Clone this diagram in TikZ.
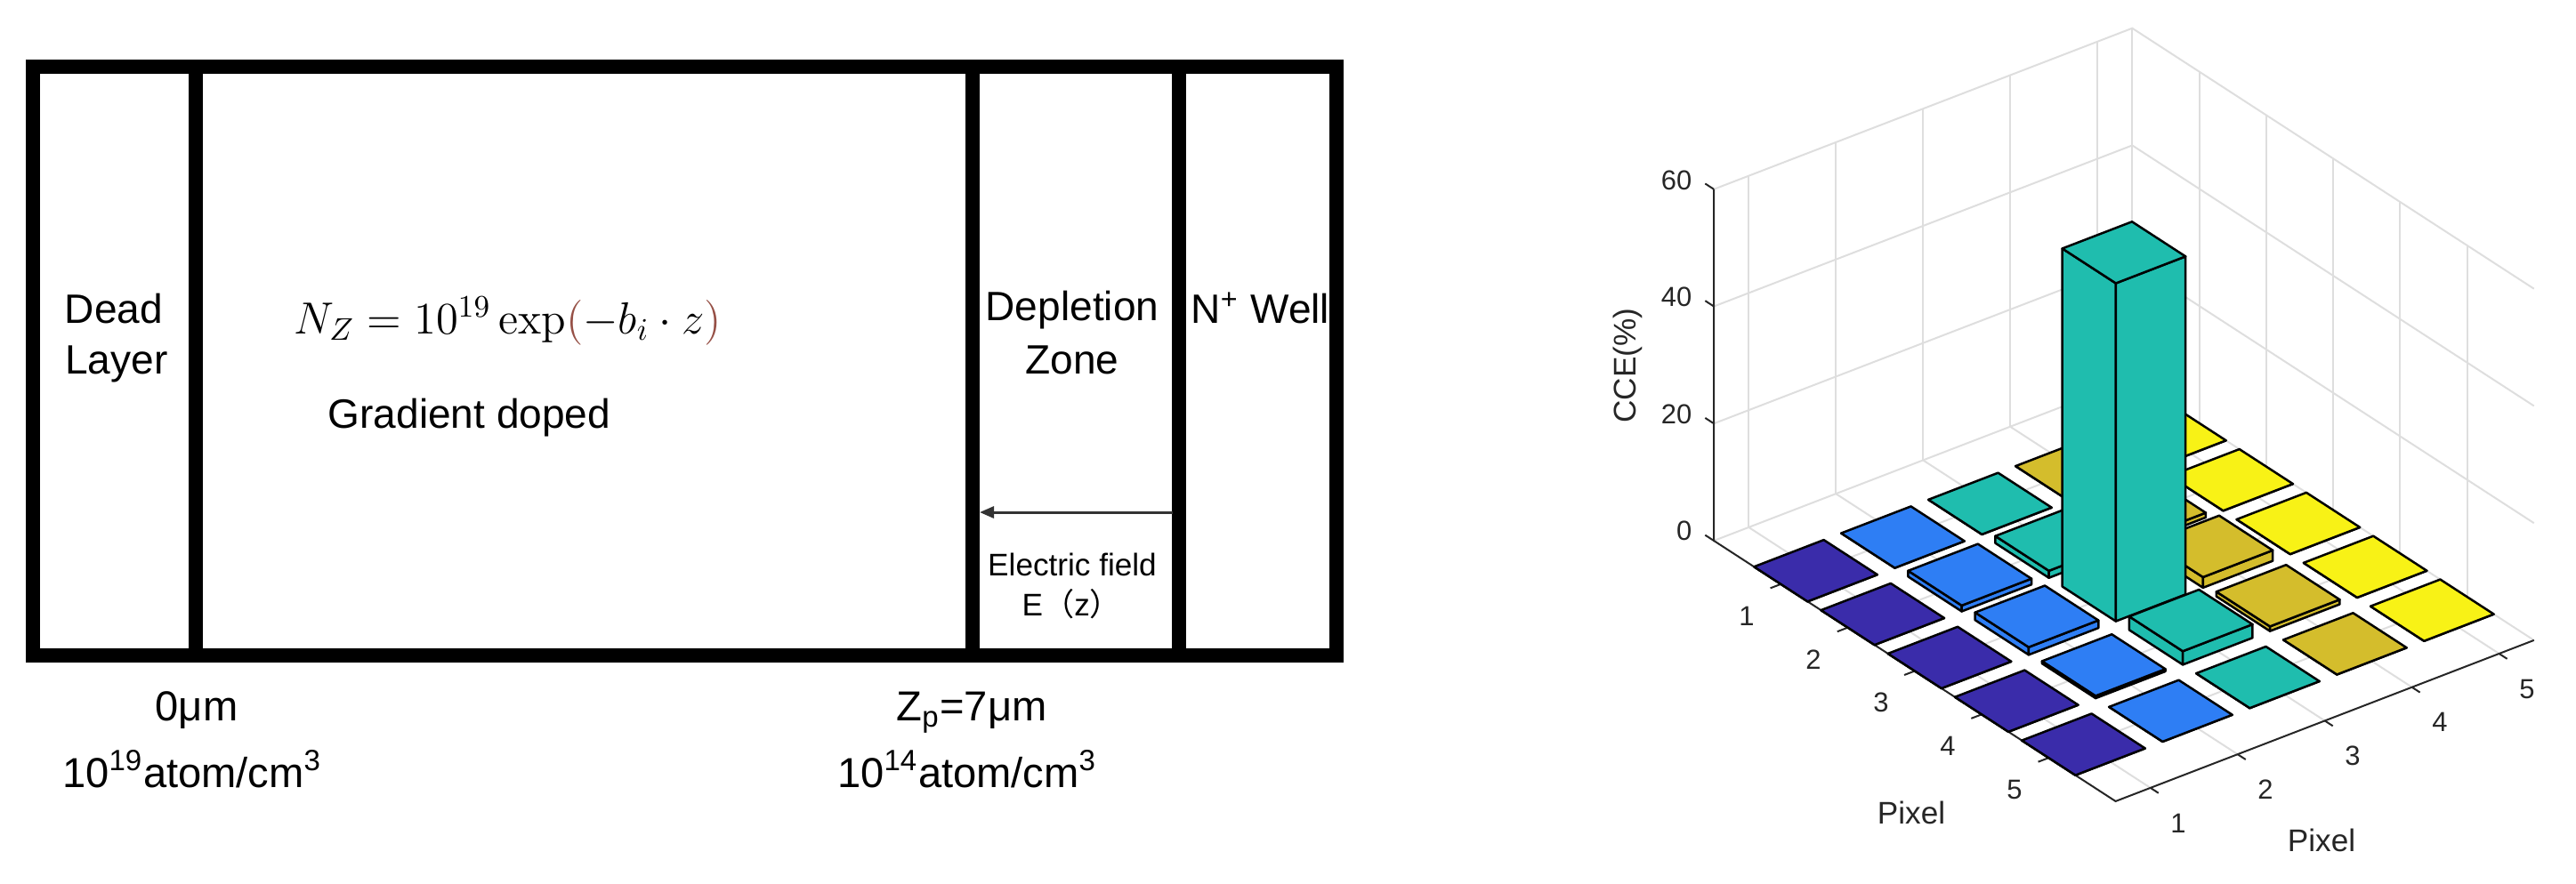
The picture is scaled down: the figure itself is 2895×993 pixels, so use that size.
\documentclass[tikz,border=0pt]{standalone}
\usepackage[no-math]{fontspec}
\setmainfont{Liberation Sans}
\newfontfamily\cjkfont{Noto Sans CJK SC}
\usetikzlibrary{arrows.meta}

\definecolor{cDark}{RGB}{58,44,170}
\definecolor{cBlue}{RGB}{46,126,244}
\definecolor{cTeal}{RGB}{31,189,174}
\definecolor{cGold}{RGB}{212,189,44}
\definecolor{cYel}{RGB}{248,242,22}
\definecolor{gridgray}{RGB}{222,222,222}
\definecolor{axgray}{RGB}{38,38,38}
\definecolor{parenbrown}{RGB}{150,80,70}

\begin{document}
\begin{tikzpicture}[x=0.01cm,y=-0.01cm,
  frame/.style={line width=0.155cm},
  lbl/.style={font=\fontsize{13.1}{15}\selectfont, inner sep=0pt},
  lblb/.style={font=\fontsize{13.4}{15}\selectfont, inner sep=0pt},
  smalllbl/.style={font=\fontsize{10}{12}\selectfont, inner sep=0pt},
  ax/.style={line width=0.02cm, draw=axgray},
  gridln/.style={line width=0.02cm, draw=gridgray},
  barface/.style={draw=black, line width=0.025cm, line join=round},
  ticklbl/.style={font=\fontsize{8.8}{10}\selectfont, text=axgray, inner sep=0pt},
  axlbl/.style={font=\fontsize{10}{12}\selectfont, text=axgray, inner sep=0pt}]
\useasboundingbox (0,0) rectangle (2895,993);

% ---------------- left panel ----------------
\draw[frame] (37,75) rectangle (1502,737);
\draw[frame] (220,75) -- (220,737);
\draw[frame] (1093,75) -- (1093,737);
\draw[frame] (1325,75) -- (1325,737);

\node[lbl, anchor=base] (dead) at (128,363) {Dead};
\node[lbl, anchor=base] (layer) at (131,420) {Layer};
\node[lbl, anchor=base west] (eq) at (330,375)
  {\fontsize{14.2}{16}\selectfont $N_Z = 10^{19}\exp\mathopen{\textcolor{parenbrown}{(}}-b_i\cdot z\mathclose{\textcolor{parenbrown}{)}}$};
\node[lbl, anchor=base west] (grad) at (368,481) {Gradient doped};
\node[lbl, anchor=base] (depl) at (1205,360) {Depletion};
\node[lbl, anchor=base] (zone) at (1205,420) {Zone};
\node[lbl, anchor=base west] (nwell) at (1338,363) {N\textsuperscript{+} Well};
\node[smalllbl, anchor=base] (efield) at (1205,647) {Electric field};
\node[smalllbl, anchor=base west] (ez) at (1148,692) {E{\cjkfont （}z{\cjkfont ）}};

\coordinate (efR) at (1318,576);
\coordinate (efL) at (1101,576);
\draw[line width=0.03cm, draw=black!80, -{Triangle[length=0.16cm,width=0.13cm]}] (efR) -- (efL);

\node[lblb, anchor=base] (zero) at (221,810) {0μm};
\node[lblb, anchor=base] (dens1) at (216,885) {10\textsuperscript{19}atom/cm\textsuperscript{3}};
\node[lblb, anchor=base] (zp) at (1092,810) {Z\textsubscript{p}=7μm};
\node[lblb, anchor=base] (dens2) at (1087,885) {10\textsuperscript{14}atom/cm\textsuperscript{3}};

% ---------------- 3D bar chart ----------------
\begin{scope}[shift={(1867.3,630.6)}, x={(0.752cm,-0.488cm)}, y={(0.979cm,0.377cm)}, z={(0cm,0.06583cm)}]
  % grid lines
  \foreach \i in {1,...,5} {
    \draw[gridln] (\i,0.6,0) -- (\i,5.4,0);
    \draw[gridln] (\i,5.4,0) -- (\i,5.4,60);
  }
  \foreach \j in {1,...,5} {
    \draw[gridln] (0,\j,0) -- (6,\j,0);
    \draw[gridln] (0,\j,0) -- (0,\j,60);
  }
  \foreach \zz in {20,40,60} {
    \draw[gridln] (0,0.6,\zz) -- (0,5.4,\zz) -- (6,5.4,\zz);
  }
  \draw[gridln] (0,0.6,0) -- (0,5.4,0) -- (6,5.4,0);
  \draw[gridln] (0,5.4,0) -- (0,5.4,60);
  % axes
  \draw[ax] (0,0.6,60) -- (0,0.6,0) -- (6,0.6,0) -- (6,5.4,0);
  \foreach \zz in {0,20,40,60} \draw[ax] (0,0.6,\zz) -- (-0.13,0.6,\zz);
  \foreach \i in {1,...,5} \draw[ax] (\i,0.6,0) -- (\i,0.48,0);
  \foreach \j in {1,...,5} \draw[ax] (6,\j,0) -- (6.12,\j,0);
  % bars, back to front
  \foreach \i/\j/\h/\c in {
     1/5/0/cYel, 1/4/0/cGold, 1/3/0/cTeal, 1/2/0/cBlue, 1/1/0/cDark,
     2/5/0/cYel, 2/4/0.8/cGold, 2/3/1.2/cTeal, 2/2/1.0/cBlue, 2/1/0/cDark,
     3/5/0/cYel, 3/4/1.8/cGold, 3/3/57.7/cTeal, 3/2/1.3/cBlue, 3/1/0/cDark,
     4/5/0/cYel, 4/4/0.8/cGold, 4/3/2.3/cTeal, 4/2/0.4/cBlue, 4/1/0/cDark,
     5/5/0/cYel, 5/4/0/cGold, 5/3/0/cTeal, 5/2/0/cBlue, 5/1/0/cDark} {
    \pgfmathsetmacro\ia{\i-0.4}
    \pgfmathsetmacro\ib{\i+0.4}
    \pgfmathsetmacro\ja{\j-0.4}
    \pgfmathsetmacro\jb{\j+0.4}
    \draw[barface, fill=\c] (\ia,\ja,0) -- (\ib,\ja,0) -- (\ib,\ja,\h) -- (\ia,\ja,\h) -- cycle;
    \draw[barface, fill=\c] (\ib,\ja,0) -- (\ib,\jb,0) -- (\ib,\jb,\h) -- (\ib,\ja,\h) -- cycle;
    \draw[barface, fill=\c] (\ia,\ja,\h) -- (\ib,\ja,\h) -- (\ib,\jb,\h) -- (\ia,\jb,\h) -- cycle;
  }
\end{scope}

% tick labels
\node[ticklbl, anchor=east] (z60) at (1902,203) {60};
\node[ticklbl, anchor=east] (z40) at (1902,334) {40};
\node[ticklbl, anchor=east] (z20) at (1902,466) {20};
\node[ticklbl, anchor=east] (z0) at (1902,597) {0};
\node[axlbl, rotate=90] (cce) at (1829,411) {CCE(\%)};

\node[ticklbl] (pa1) at (1963,693) {1};
\node[ticklbl] (pa2) at (2038,742) {2};
\node[ticklbl] (pa3) at (2114,790) {3};
\node[ticklbl] (pa4) at (2189,839) {4};
\node[ticklbl] (pa5) at (2264,888) {5};
\node[axlbl] (pixA) at (2148,914) {Pixel};

\node[ticklbl] (pb1) at (2448,926) {1};
\node[ticklbl] (pb2) at (2546,888) {2};
\node[ticklbl] (pb3) at (2644,850) {3};
\node[ticklbl] (pb4) at (2742,812) {4};
\node[ticklbl] (pb5) at (2840,775) {5};
\node[axlbl] (pixB) at (2609,945) {Pixel};
\end{tikzpicture}
\end{document}
